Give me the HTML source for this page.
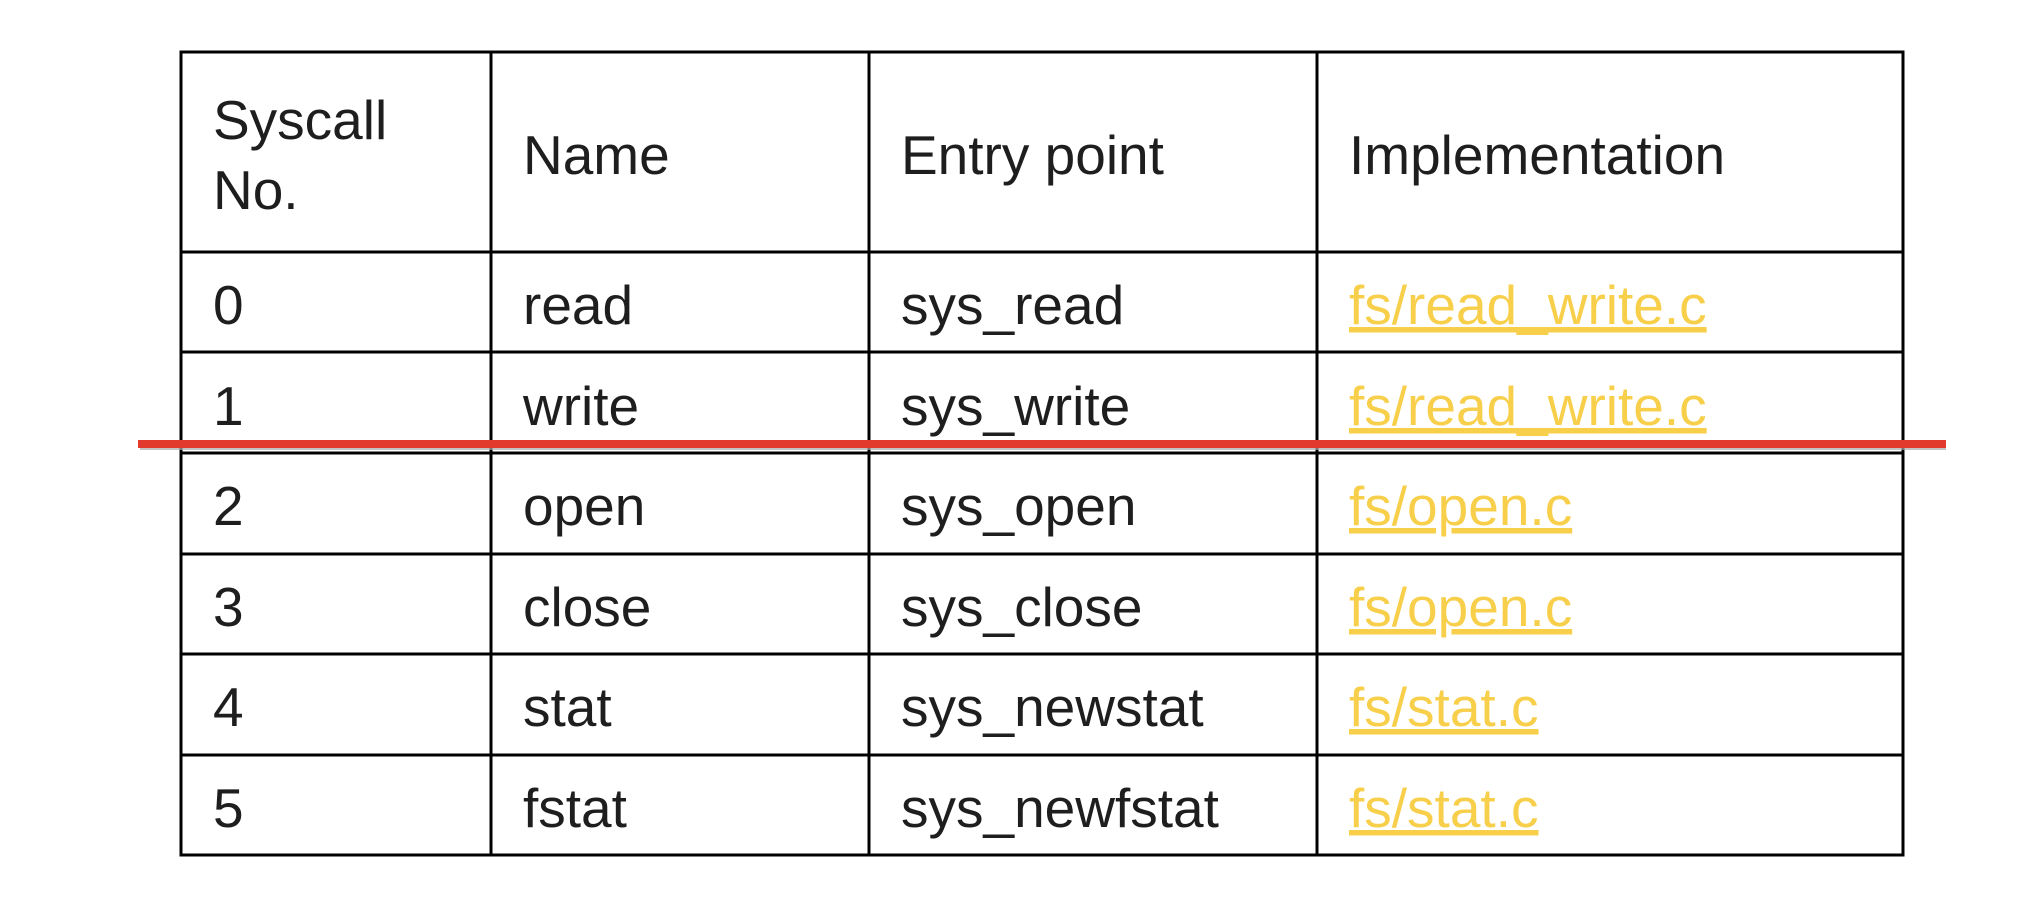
<!DOCTYPE html>
<html><head><meta charset="utf-8"><style>
html,body{margin:0;padding:0;background:#fff;}
svg{display:block}
text{font-family:"Liberation Sans",sans-serif;font-size:55px;fill:#1e1e1e}
.l{fill:#f8cf4a}
</style></head><body>
<svg width="2024" height="918" viewBox="0 0 2024 918" xmlns="http://www.w3.org/2000/svg">
<g stroke="#000" stroke-width="3" fill="none">
<rect x="181" y="52" width="1722" height="803"/>
<line x1="491" y1="52" x2="491" y2="855"/>
<line x1="869" y1="52" x2="869" y2="855"/>
<line x1="1317" y1="52" x2="1317" y2="855"/>
<line x1="181" y1="252" x2="1903" y2="252"/>
<line x1="181" y1="352" x2="1903" y2="352"/>
<line x1="181" y1="453" x2="1903" y2="453"/>
<line x1="181" y1="554" x2="1903" y2="554"/>
<line x1="181" y1="654" x2="1903" y2="654"/>
<line x1="181" y1="755" x2="1903" y2="755"/>
</g>
<text x="213" y="139">Syscall</text>
<text x="213" y="209">No.</text>
<text x="523" y="174">Name</text>
<text x="901" y="174">Entry point</text>
<text x="1349" y="174">Implementation</text>
<g>
<text x="213" y="324">0</text><text x="523" y="324">read</text><text x="901" y="324">sys_read</text><text class="l" x="1349" y="324" text-decoration="underline">fs/read_write.c</text>
<text x="213" y="425">1</text><text x="523" y="425">write</text><text x="901" y="425">sys_write</text><text class="l" x="1349" y="425" text-decoration="underline">fs/read_write.c</text>
<text x="213" y="525">2</text><text x="523" y="525">open</text><text x="901" y="525">sys_open</text><text class="l" x="1349" y="525" text-decoration="underline">fs/open.c</text>
<text x="213" y="626">3</text><text x="523" y="626">close</text><text x="901" y="626">sys_close</text><text class="l" x="1349" y="626" text-decoration="underline">fs/open.c</text>
<text x="213" y="726">4</text><text x="523" y="726">stat</text><text x="901" y="726">sys_newstat</text><text class="l" x="1349" y="726" text-decoration="underline">fs/stat.c</text>
<text x="213" y="827">5</text><text x="523" y="827">fstat</text><text x="901" y="827">sys_newfstat</text><text class="l" x="1349" y="827" text-decoration="underline">fs/stat.c</text>
</g>
<rect x="140" y="446" width="1806" height="4" fill="#aaa" opacity="0.7"/>
<rect x="138" y="440" width="1808" height="8" fill="#e23a2c"/>
</svg>
</body></html>
